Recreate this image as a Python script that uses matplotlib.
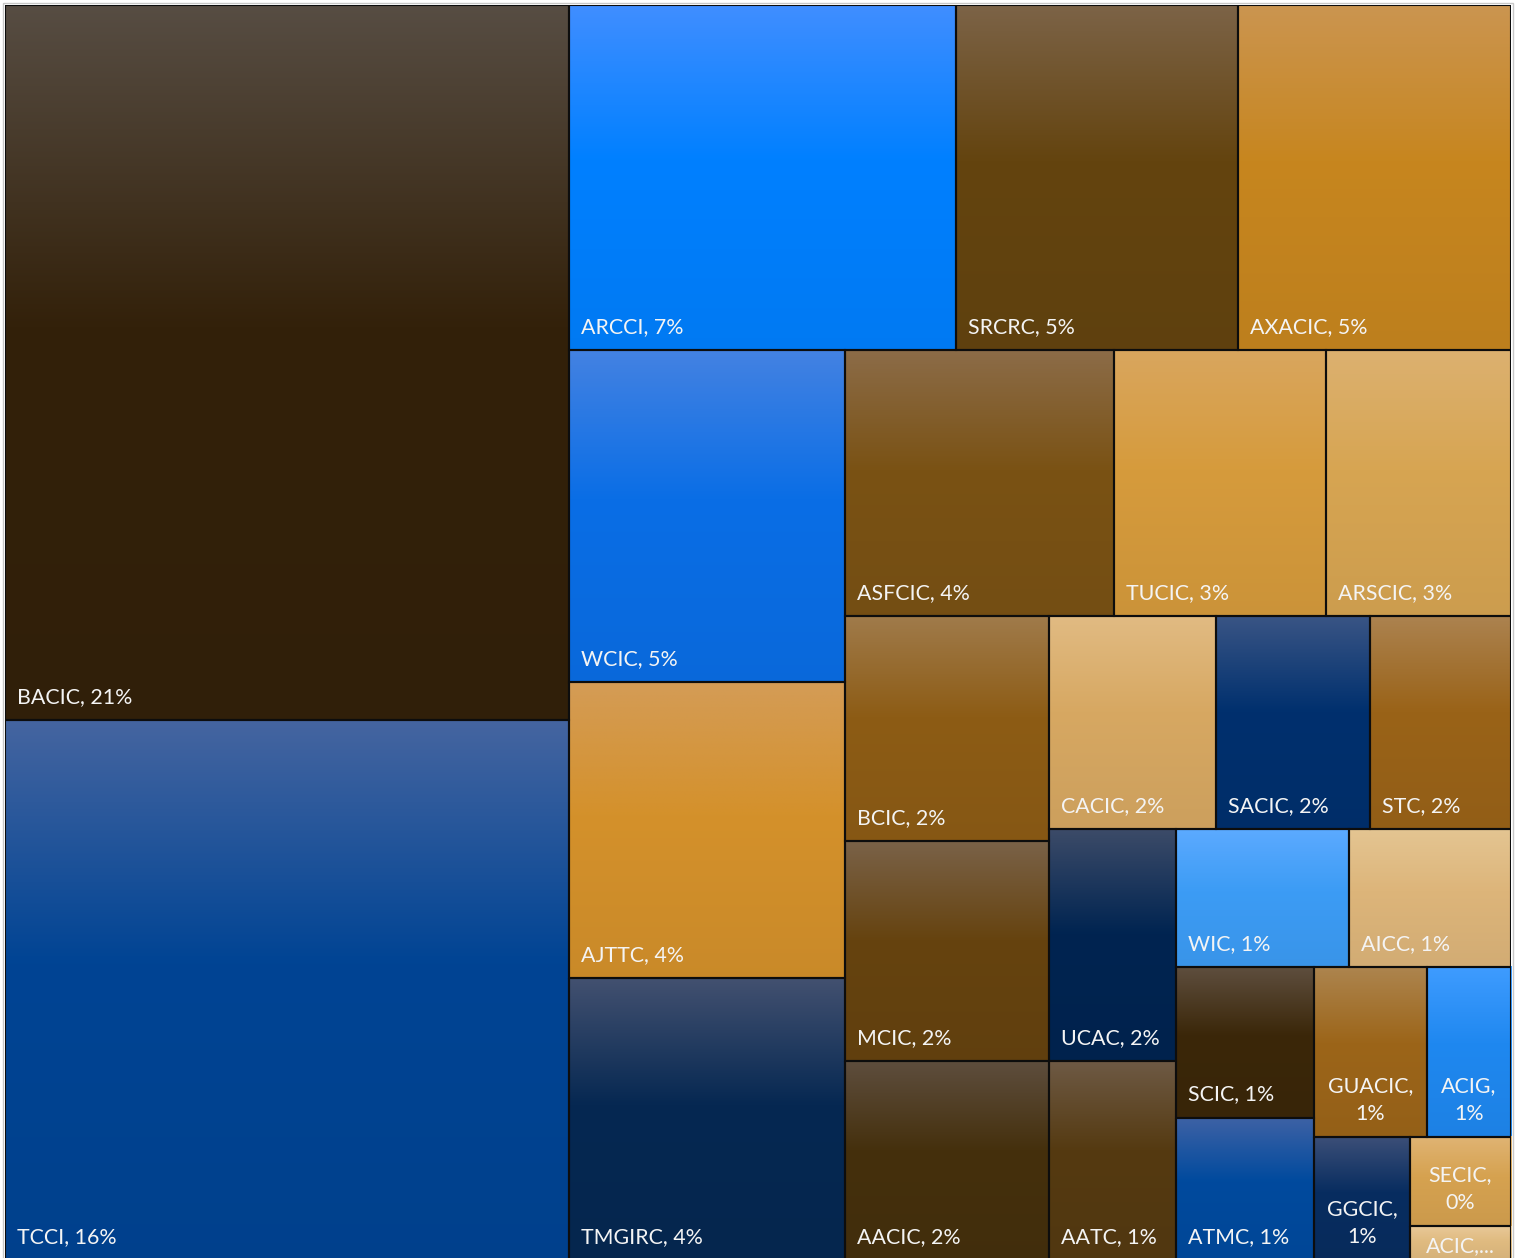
import numpy as np
import matplotlib
matplotlib.use("Agg")
import matplotlib.pyplot as plt
from matplotlib.patches import Rectangle

# Share of each institution (percent of total), largest first
names = ["BACIC", "TCCI", "ARCCI", "SRCRC", "AXACIC", "WCIC", "AJTTC", "TMGIRC",
         "ASFCIC", "TUCIC", "ARSCIC", "BCIC", "MCIC", "AACIC", "CACIC", "SACIC",
         "STC", "UCAC", "AATC", "WIC", "AICC", "SCIC", "ATMC", "GUACIC", "ACIG",
         "GGCIC", "SECIC", "ACIC"]
values = [21.34, 16.11, 7.06, 5.15, 4.98, 4.85, 4.32, 4.12,
          3.79, 2.98, 2.60, 2.43, 2.37, 2.15, 1.88, 1.74,
          1.59, 1.56, 1.34, 1.26, 1.18, 1.10, 1.04, 1.01, 0.76,
          0.62, 0.48, 0.18]

# Number of cells in each successive strip of the treemap
cells_per_strip = [2, 3, 3, 3, 3, 3, 2, 2, 2, 2, 1, 1, 1]

# Gradient fill per cell: lighter tint at the top, base colour lower down
top_colors = ["#574d43", "#4565a0", "#408eff", "#7c6347", "#cb9550", "#4482e2",
              "#d49c56", "#435170", "#8c6c48", "#d9a65e", "#dcb170", "#a07b4b",
              "#7a6248", "#5e4e3e", "#e1bb83", "#3a5585", "#ac8350", "#3c4b68",
              "#6e5a45", "#5caaff", "#e4c592", "#5e4e3e", "#3e62a5", "#ad854f",
              "#3f9cff", "#3c4f78", "#e0b474", "#e8c898"]
base_colors = ["#33210a", "#004494", "#0080ff", "#64440f", "#c7861f", "#0a6ee6",
               "#d4912b", "#062852", "#7a5214", "#d69b3c", "#d7a552", "#8d5c15",
               "#66430f", "#45300d", "#d7a862", "#00306e", "#9a6318", "#002451",
               "#553a11", "#3c9cf5", "#ddb57a", "#3b2709", "#004a9e", "#9c6519",
               "#1f88f0", "#082d60", "#d6a250", "#e0bb80"]

W, H = 1506.0, 1255.0   # plot area in pixels
PAD_X = 12
PAD_BOTTOM = 17
LINE_GAP = 28
FONT = dict(family=["Lato", "DejaVu Sans"], size=15.4, color="#f4f4f4")


def strip_layout(vals, counts, x, y, w, h):
    """Lay values out in alternating strips along the shorter side."""
    scale = w * h / float(sum(vals))
    rects = []
    i = 0
    for c in counts:
        group = vals[i:i + c]
        area = sum(group) * scale
        if w >= h:
            cw = area / h
            yy = y
            for v in group:
                ch = v * scale / cw
                rects.append((x, yy, cw, ch))
                yy += ch
            x += cw
            w -= cw
        else:
            rh = area / w
            xx = x
            for v in group:
                rw = v * scale / rh
                rects.append((xx, y, rw, rh))
                xx += rw
            y += rh
            h -= rh
        i += c
    return rects


def gradient(top, base, n=256):
    t = np.linspace(0, 1, n)[:, None]
    c0 = np.array(matplotlib.colors.to_rgb(top))
    c1 = np.array(matplotlib.colors.to_rgb(base))
    c2 = c1 * 0.95
    upper = c0 + (c1 - c0) * np.clip(t / 0.45, 0, 1)
    lower = c1 + (c2 - c1) * np.clip((t - 0.45) / 0.55, 0, 1)
    col = np.where(t <= 0.45, upper, lower)
    return col[:, None, :]


fig = plt.figure(figsize=(15.2, 12.58), dpi=100)
fig.patch.set_facecolor("white")
ax = fig.add_axes([5 / 1520, -2 / 1258, W / 1520, H / 1258])
ax.set_axis_off()

rects = strip_layout(values, cells_per_strip, 0.0, 0.0, W, H)
total = sum(values)
renderer = fig.canvas.get_renderer()

for name, v, (x0, y0, w, h), tc, bc in zip(names, values, rects, top_colors, base_colors):
    ax.imshow(gradient(tc, bc), extent=(x0, x0 + w, y0 + h, y0), origin="upper",
              aspect="auto", interpolation="bilinear", zorder=1)
    ax.add_patch(Rectangle((x0, y0), w, h, facecolor="none", edgecolor="#0d0d0d",
                           linewidth=1.5, zorder=2))

    pct = int(v / total * 100 + 0.5)
    label = f"{name}, {pct}%"
    base_y = y0 + h - PAD_BOTTOM
    t = ax.text(x0 + PAD_X, base_y, label, ha="left", va="baseline", zorder=3, **FONT)
    width_px = t.get_window_extent(renderer).width
    if width_px + 2 * PAD_X <= w:
        continue
    t.remove()
    first, second = f"{name},", f"{pct}%"
    cx = x0 + w / 2
    if h >= PAD_BOTTOM + LINE_GAP + 22:
        ax.text(cx, base_y, second, ha="center", va="baseline", zorder=3, **FONT)
        ax.text(cx, base_y - LINE_GAP, first, ha="center", va="baseline", zorder=3, **FONT)
    else:
        yb = max(base_y, y0 + 26)
        ax.text(cx, yb, first + "...", ha="center", va="baseline", zorder=3,
                clip_on=True, **FONT)

# light chart-area outline around the plot
ax.add_patch(Rectangle((-2, -2), W + 4, H + 4, facecolor="none", edgecolor="#c8c8c8",
                       linewidth=1.0, clip_on=False, zorder=0))

ax.set_xlim(0, W)
ax.set_ylim(H, 0)

fig.savefig("out.png", dpi=100, facecolor="white")
